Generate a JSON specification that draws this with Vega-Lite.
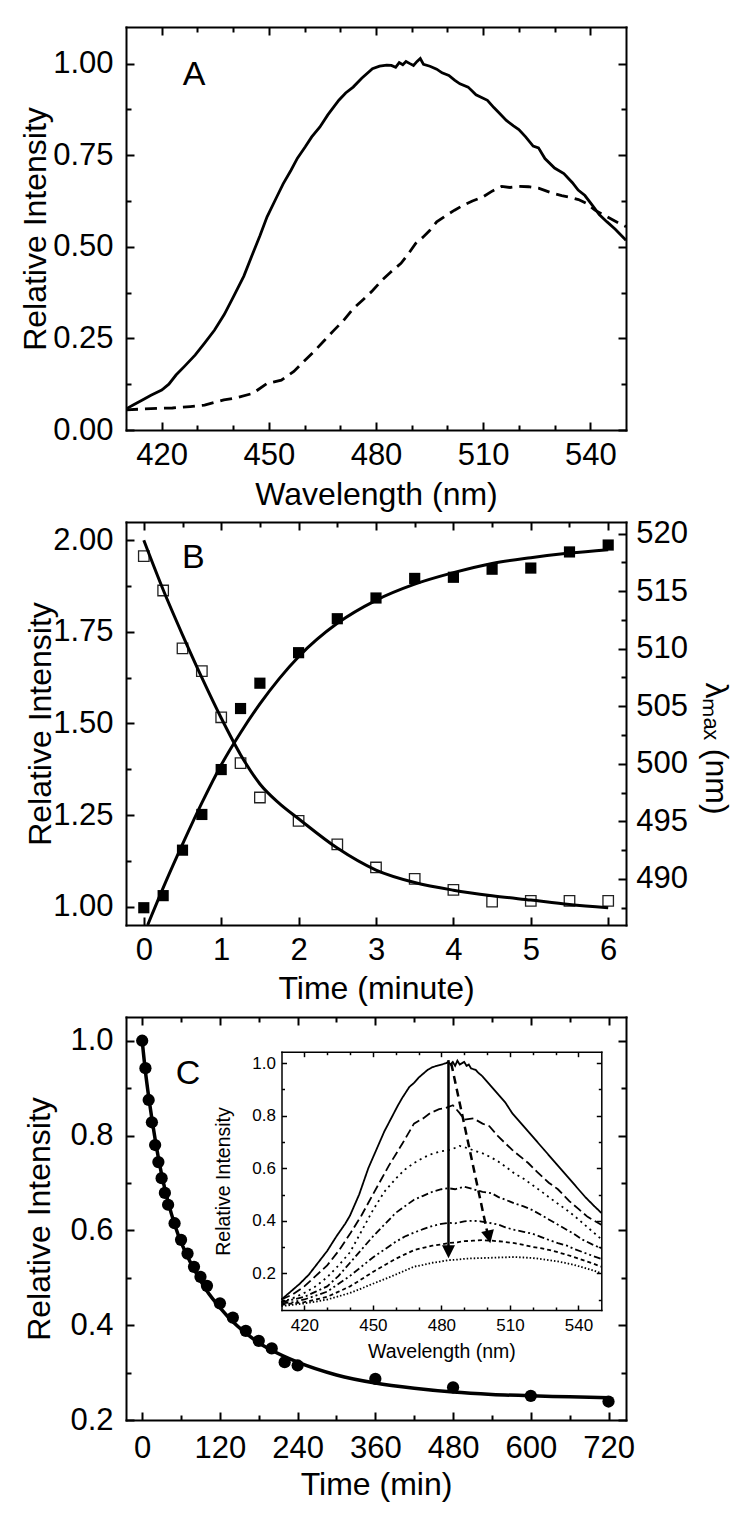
{
"$schema": "https://vega.github.io/schema/vega-lite/v6.json",
"padding": {"top": 26, "left": 19, "right": 2, "bottom": 2},
"bounds": "flush",
"spacing": 92,
"config": {
  "view": {"stroke": null},
  "font": "Liberation Sans",
  "axis": {"domainColor": "black", "domainWidth": 2, "tickColor": "black", "tickWidth": 2, "labelColor": "black", "titleColor": "black", "grid": false, "labelFont": "Liberation Sans", "titleFont": "Liberation Sans", "titleFontWeight": "normal", "labelFlush": false, "labelOverlap": false, "labelFontSize": 31, "titleFontSize": 32, "domainCap": "square"}
},
"datasets": {
  "aSolid": [
    {"wl":410.3,"v":0.059},{"wl":412,"v":0.068},{"wl":414.6,"v":0.082},{"wl":417,"v":0.095},{"wl":420,"v":0.109},{"wl":422,"v":0.125},{"wl":424,"v":0.15},{"wl":426.5,"v":0.175},{"wl":429.4,"v":0.205},{"wl":432,"v":0.237},{"wl":434.8,"v":0.273},{"wl":437.5,"v":0.315},{"wl":440.1,"v":0.364},{"wl":443,"v":0.42},{"wl":445.5,"v":0.482},{"wl":447.5,"v":0.53},{"wl":449.5,"v":0.582},{"wl":452.2,"v":0.636},{"wl":454,"v":0.672},{"wl":456.2,"v":0.709},{"wl":458,"v":0.742},{"wl":460.2,"v":0.773},{"wl":462,"v":0.8},{"wl":464.3,"v":0.827},{"wl":466.5,"v":0.86},{"wl":469.6,"v":0.9},{"wl":471.5,"v":0.92},{"wl":473.6,"v":0.936},{"wl":476,"v":0.96},{"wl":479,"v":0.986},{"wl":481,"v":0.993},{"wl":483,"v":0.996},{"wl":484.3,"v":0.995},{"wl":485.5,"v":0.99},{"wl":486.5,"v":1.003},{"wl":487.5,"v":0.997},{"wl":488.4,"v":1.006},{"wl":489.5,"v":1.0},{"wl":490.5,"v":0.995},{"wl":491.5,"v":1.006},{"wl":492.4,"v":1.014},{"wl":493.3,"v":0.998},{"wl":495.1,"v":0.993},{"wl":497,"v":0.985},{"wl":498.5,"v":0.975},{"wl":500.4,"v":0.968},{"wl":502,"v":0.955},{"wl":503.5,"v":0.945},{"wl":505.8,"v":0.936},{"wl":508,"v":0.915},{"wl":511.2,"v":0.9},{"wl":513,"v":0.88},{"wl":514.5,"v":0.865},{"wl":516.5,"v":0.845},{"wl":518.5,"v":0.83},{"wl":520,"v":0.82},{"wl":521.9,"v":0.8},{"wl":524,"v":0.775},{"wl":525.5,"v":0.77},{"wl":527.3,"v":0.741},{"wl":530,"v":0.715},{"wl":532.6,"v":0.7},{"wl":535,"v":0.675},{"wl":536.6,"v":0.655},{"wl":538.5,"v":0.64},{"wl":540.7,"v":0.612},{"wl":542.5,"v":0.588},{"wl":544.7,"v":0.568},{"wl":547,"v":0.548},{"wl":550,"v":0.518}
  ],
  "aDash": [
    {"wl":410,"v":0.055},{"wl":414,"v":0.057},{"wl":418.7,"v":0.059},{"wl":423,"v":0.06},{"wl":428,"v":0.064},{"wl":432,"v":0.068},{"wl":437.4,"v":0.082},{"wl":441,"v":0.088},{"wl":445.5,"v":0.1},{"wl":449.5,"v":0.127},{"wl":453.5,"v":0.136},{"wl":457,"v":0.16},{"wl":460.2,"v":0.191},{"wl":463,"v":0.218},{"wl":465.6,"v":0.245},{"wl":468,"v":0.27},{"wl":471,"v":0.3},{"wl":473.5,"v":0.33},{"wl":476.3,"v":0.355},{"wl":479,"v":0.38},{"wl":481.7,"v":0.409},{"wl":484,"v":0.43},{"wl":487,"v":0.455},{"wl":489,"v":0.48},{"wl":491.1,"v":0.509},{"wl":493,"v":0.525},{"wl":495.1,"v":0.545},{"wl":497,"v":0.568},{"wl":499.1,"v":0.582},{"wl":502,"v":0.6},{"wl":504.5,"v":0.614},{"wl":507,"v":0.625},{"wl":509.9,"v":0.636},{"wl":512.5,"v":0.652},{"wl":515.2,"v":0.665},{"wl":517.5,"v":0.662},{"wl":520,"v":0.665},{"wl":522.7,"v":0.664},{"wl":525.5,"v":0.66},{"wl":529.2,"v":0.647},{"wl":532,"v":0.64},{"wl":534,"v":0.636},{"wl":536.7,"v":0.629},{"wl":539,"v":0.618},{"wl":541.3,"v":0.6},{"wl":544.7,"v":0.582},{"wl":547.9,"v":0.565},{"wl":550,"v":0.555}
  ],
  "bOpen": [
    {"t":0,"v":1.957},{"t":0.25,"v":1.863},{"t":0.5,"v":1.705},{"t":0.75,"v":1.643},{"t":1,"v":1.517},{"t":1.25,"v":1.392},{"t":1.5,"v":1.298},{"t":2,"v":1.234},{"t":2.5,"v":1.17},{"t":3,"v":1.107},{"t":3.5,"v":1.076},{"t":4,"v":1.046},{"t":4.5,"v":1.014},{"t":5,"v":1.016},{"t":5.5,"v":1.016},{"t":6,"v":1.016}
  ],
  "bFilled": [
    {"t":0,"v":487.5},{"t":0.25,"v":488.55},{"t":0.5,"v":492.5},{"t":0.75,"v":495.6},{"t":1,"v":499.5},{"t":1.25,"v":504.8},{"t":1.5,"v":507.0},{"t":2,"v":509.65},{"t":2.5,"v":512.6},{"t":3,"v":514.4},{"t":3.5,"v":516.1},{"t":4,"v":516.2},{"t":4.5,"v":516.9},{"t":5,"v":517.0},{"t":5.5,"v":518.4},{"t":6,"v":519.0}
  ],
  "bDec": [
    {"t":0,"v":2.0},{"t":0.25,"v":1.865},{"t":0.5,"v":1.742},{"t":0.75,"v":1.625},{"t":1,"v":1.515},{"t":1.25,"v":1.415},{"t":1.5,"v":1.335},{"t":1.75,"v":1.282},{"t":2,"v":1.24},{"t":2.5,"v":1.16},{"t":3,"v":1.1},{"t":3.5,"v":1.066},{"t":4,"v":1.045},{"t":4.5,"v":1.03},{"t":5,"v":1.018},{"t":5.5,"v":1.006},{"t":6,"v":0.997}
  ],
  "bInc": [
    {"t":0.05,"v":486.0},{"t":0.3,"v":490.0},{"t":0.52,"v":493.3},{"t":0.75,"v":496.6},{"t":1,"v":499.9},{"t":1.25,"v":502.7},{"t":1.5,"v":505.2},{"t":1.75,"v":507.4},{"t":2,"v":509.3},{"t":2.5,"v":512.2},{"t":3,"v":514.2},{"t":3.5,"v":515.6},{"t":4,"v":516.6},{"t":4.5,"v":517.4},{"t":5,"v":517.9},{"t":5.5,"v":518.3},{"t":6,"v":518.6}
  ],
  "cPts": [
    {"t":0,"v":1.0},{"t":5,"v":0.942},{"t":10,"v":0.875},{"t":15,"v":0.828},{"t":20,"v":0.78},{"t":25,"v":0.744},{"t":30,"v":0.71},{"t":35,"v":0.679},{"t":40,"v":0.654},{"t":50,"v":0.615},{"t":60,"v":0.58},{"t":70,"v":0.551},{"t":80,"v":0.523},{"t":90,"v":0.502},{"t":100,"v":0.483},{"t":120,"v":0.446},{"t":140,"v":0.416},{"t":160,"v":0.388},{"t":180,"v":0.367},{"t":200,"v":0.351},{"t":220,"v":0.322},{"t":240,"v":0.315},{"t":360,"v":0.287},{"t":480,"v":0.269},{"t":600,"v":0.251},{"t":720,"v":0.239}
  ],
  "cFit": [
    {"t":0,"v":1.0},{"t":5,"v":0.935},{"t":10,"v":0.882},{"t":15,"v":0.835},{"t":20,"v":0.792},{"t":30,"v":0.718},{"t":40,"v":0.66},{"t":50,"v":0.613},{"t":60,"v":0.575},{"t":70,"v":0.545},{"t":80,"v":0.518},{"t":100,"v":0.472},{"t":120,"v":0.437},{"t":140,"v":0.407},{"t":160,"v":0.383},{"t":180,"v":0.363},{"t":200,"v":0.347},{"t":240,"v":0.322},{"t":300,"v":0.295},{"t":360,"v":0.278},{"t":420,"v":0.267},{"t":480,"v":0.259},{"t":540,"v":0.254},{"t":600,"v":0.251},{"t":660,"v":0.249},{"t":720,"v":0.247}
  ],
  "inset": [
    {"s":"1","wl":410,"v":0.1},{"s":"1","wl":414,"v":0.13},{"s":"1","wl":418,"v":0.16},{"s":"1","wl":422,"v":0.195},{"s":"1","wl":426,"v":0.24},{"s":"1","wl":430,"v":0.285},{"s":"1","wl":434,"v":0.34},{"s":"1","wl":438,"v":0.39},{"s":"1","wl":440,"v":0.42},{"s":"1","wl":444,"v":0.5},{"s":"1","wl":448,"v":0.6},{"s":"1","wl":452,"v":0.68},{"s":"1","wl":455,"v":0.74},{"s":"1","wl":458,"v":0.79},{"s":"1","wl":461,"v":0.84},{"s":"1","wl":463,"v":0.87},{"s":"1","wl":466,"v":0.91},{"s":"1","wl":468,"v":0.925},{"s":"1","wl":470,"v":0.945},{"s":"1","wl":472,"v":0.96},{"s":"1","wl":474,"v":0.975},{"s":"1","wl":476,"v":0.985},{"s":"1","wl":478,"v":0.99},{"s":"1","wl":480,"v":0.995},{"s":"1","wl":482,"v":1.0},{"s":"1","wl":483,"v":1.005},{"s":"1","wl":484,"v":0.995},{"s":"1","wl":485,"v":1.005},{"s":"1","wl":486,"v":0.99},{"s":"1","wl":487,"v":1.01},{"s":"1","wl":488,"v":0.995},{"s":"1","wl":489,"v":1.0},{"s":"1","wl":490,"v":1.005},{"s":"1","wl":491,"v":0.99},{"s":"1","wl":492,"v":0.995},{"s":"1","wl":493,"v":0.98},{"s":"1","wl":495,"v":0.975},{"s":"1","wl":496,"v":0.965},{"s":"1","wl":498,"v":0.95},{"s":"1","wl":500,"v":0.93},{"s":"1","wl":502,"v":0.91},{"s":"1","wl":505,"v":0.88},{"s":"1","wl":508,"v":0.85},{"s":"1","wl":511,"v":0.81},{"s":"1","wl":515,"v":0.77},{"s":"1","wl":518,"v":0.74},{"s":"1","wl":521,"v":0.71},{"s":"1","wl":525,"v":0.67},{"s":"1","wl":530,"v":0.62},{"s":"1","wl":535,"v":0.57},{"s":"1","wl":539,"v":0.53},{"s":"1","wl":543,"v":0.49},{"s":"1","wl":547,"v":0.455},{"s":"1","wl":550,"v":0.43},
    {"s":"2","wl":410,"v":0.1},{"s":"2","wl":415,"v":0.12},{"s":"2","wl":420,"v":0.15},{"s":"2","wl":425,"v":0.19},{"s":"2","wl":430,"v":0.23},{"s":"2","wl":435,"v":0.285},{"s":"2","wl":440,"v":0.35},{"s":"2","wl":445,"v":0.42},{"s":"2","wl":450,"v":0.5},{"s":"2","wl":457,"v":0.61},{"s":"2","wl":463,"v":0.695},{"s":"2","wl":468,"v":0.77},{"s":"2","wl":472,"v":0.79},{"s":"2","wl":475,"v":0.81},{"s":"2","wl":479,"v":0.825},{"s":"2","wl":482,"v":0.83},{"s":"2","wl":485,"v":0.84},{"s":"2","wl":488,"v":0.81},{"s":"2","wl":490,"v":0.785},{"s":"2","wl":494,"v":0.79},{"s":"2","wl":498,"v":0.77},{"s":"2","wl":501,"v":0.76},{"s":"2","wl":505,"v":0.72},{"s":"2","wl":511,"v":0.67},{"s":"2","wl":518,"v":0.62},{"s":"2","wl":522,"v":0.585},{"s":"2","wl":527,"v":0.545},{"s":"2","wl":531,"v":0.52},{"s":"2","wl":536,"v":0.475},{"s":"2","wl":540,"v":0.445},{"s":"2","wl":544,"v":0.415},{"s":"2","wl":550,"v":0.385},
    {"s":"3","wl":410,"v":0.09},{"s":"3","wl":415,"v":0.105},{"s":"3","wl":420,"v":0.125},{"s":"3","wl":425,"v":0.15},{"s":"3","wl":430,"v":0.185},{"s":"3","wl":435,"v":0.23},{"s":"3","wl":440,"v":0.28},{"s":"3","wl":445,"v":0.36},{"s":"3","wl":450,"v":0.44},{"s":"3","wl":455,"v":0.51},{"s":"3","wl":460,"v":0.56},{"s":"3","wl":464,"v":0.595},{"s":"3","wl":468,"v":0.62},{"s":"3","wl":472,"v":0.64},{"s":"3","wl":476,"v":0.655},{"s":"3","wl":480,"v":0.665},{"s":"3","wl":484,"v":0.67},{"s":"3","wl":488,"v":0.685},{"s":"3","wl":492,"v":0.675},{"s":"3","wl":495,"v":0.665},{"s":"3","wl":498,"v":0.657},{"s":"3","wl":502,"v":0.64},{"s":"3","wl":505,"v":0.625},{"s":"3","wl":509,"v":0.6},{"s":"3","wl":512,"v":0.58},{"s":"3","wl":516,"v":0.56},{"s":"3","wl":520,"v":0.535},{"s":"3","wl":524,"v":0.51},{"s":"3","wl":527,"v":0.49},{"s":"3","wl":531,"v":0.465},{"s":"3","wl":535,"v":0.44},{"s":"3","wl":538,"v":0.42},{"s":"3","wl":542,"v":0.39},{"s":"3","wl":546,"v":0.36},{"s":"3","wl":550,"v":0.33},
    {"s":"4","wl":410,"v":0.09},{"s":"4","wl":415,"v":0.1},{"s":"4","wl":420,"v":0.11},{"s":"4","wl":425,"v":0.13},{"s":"4","wl":430,"v":0.15},{"s":"4","wl":435,"v":0.19},{"s":"4","wl":440,"v":0.24},{"s":"4","wl":445,"v":0.29},{"s":"4","wl":450,"v":0.34},{"s":"4","wl":455,"v":0.385},{"s":"4","wl":460,"v":0.43},{"s":"4","wl":464,"v":0.455},{"s":"4","wl":468,"v":0.48},{"s":"4","wl":472,"v":0.495},{"s":"4","wl":476,"v":0.51},{"s":"4","wl":480,"v":0.52},{"s":"4","wl":483,"v":0.524},{"s":"4","wl":486,"v":0.52},{"s":"4","wl":490,"v":0.53},{"s":"4","wl":494,"v":0.52},{"s":"4","wl":498,"v":0.51},{"s":"4","wl":502,"v":0.505},{"s":"4","wl":505,"v":0.49},{"s":"4","wl":508,"v":0.48},{"s":"4","wl":512,"v":0.466},{"s":"4","wl":516,"v":0.455},{"s":"4","wl":520,"v":0.44},{"s":"4","wl":524,"v":0.42},{"s":"4","wl":527,"v":0.405},{"s":"4","wl":531,"v":0.385},{"s":"4","wl":535,"v":0.365},{"s":"4","wl":538,"v":0.35},{"s":"4","wl":542,"v":0.327},{"s":"4","wl":546,"v":0.31},{"s":"4","wl":550,"v":0.295},
    {"s":"5","wl":410,"v":0.085},{"s":"5","wl":415,"v":0.09},{"s":"5","wl":420,"v":0.1},{"s":"5","wl":425,"v":0.115},{"s":"5","wl":430,"v":0.13},{"s":"5","wl":435,"v":0.16},{"s":"5","wl":440,"v":0.19},{"s":"5","wl":445,"v":0.225},{"s":"5","wl":450,"v":0.26},{"s":"5","wl":455,"v":0.29},{"s":"5","wl":460,"v":0.32},{"s":"5","wl":464,"v":0.34},{"s":"5","wl":468,"v":0.355},{"s":"5","wl":472,"v":0.368},{"s":"5","wl":476,"v":0.38},{"s":"5","wl":480,"v":0.388},{"s":"5","wl":483,"v":0.392},{"s":"5","wl":486,"v":0.39},{"s":"5","wl":490,"v":0.398},{"s":"5","wl":494,"v":0.4},{"s":"5","wl":497,"v":0.398},{"s":"5","wl":501,"v":0.392},{"s":"5","wl":505,"v":0.385},{"s":"5","wl":508,"v":0.375},{"s":"5","wl":512,"v":0.365},{"s":"5","wl":516,"v":0.358},{"s":"5","wl":520,"v":0.35},{"s":"5","wl":524,"v":0.337},{"s":"5","wl":527,"v":0.327},{"s":"5","wl":531,"v":0.315},{"s":"5","wl":535,"v":0.305},{"s":"5","wl":538,"v":0.293},{"s":"5","wl":542,"v":0.28},{"s":"5","wl":546,"v":0.267},{"s":"5","wl":550,"v":0.255},
    {"s":"6","wl":410,"v":0.08},{"s":"6","wl":415,"v":0.085},{"s":"6","wl":420,"v":0.09},{"s":"6","wl":425,"v":0.1},{"s":"6","wl":430,"v":0.11},{"s":"6","wl":435,"v":0.13},{"s":"6","wl":440,"v":0.15},{"s":"6","wl":445,"v":0.177},{"s":"6","wl":450,"v":0.205},{"s":"6","wl":455,"v":0.23},{"s":"6","wl":460,"v":0.255},{"s":"6","wl":464,"v":0.272},{"s":"6","wl":468,"v":0.288},{"s":"6","wl":472,"v":0.297},{"s":"6","wl":476,"v":0.305},{"s":"6","wl":480,"v":0.31},{"s":"6","wl":483,"v":0.315},{"s":"6","wl":487,"v":0.318},{"s":"6","wl":490,"v":0.322},{"s":"6","wl":494,"v":0.324},{"s":"6","wl":498,"v":0.326},{"s":"6","wl":502,"v":0.324},{"s":"6","wl":505,"v":0.322},{"s":"6","wl":509,"v":0.318},{"s":"6","wl":512,"v":0.315},{"s":"6","wl":516,"v":0.308},{"s":"6","wl":520,"v":0.3},{"s":"6","wl":524,"v":0.295},{"s":"6","wl":527,"v":0.289},{"s":"6","wl":531,"v":0.28},{"s":"6","wl":535,"v":0.27},{"s":"6","wl":538,"v":0.262},{"s":"6","wl":542,"v":0.25},{"s":"6","wl":546,"v":0.238},{"s":"6","wl":550,"v":0.225},
    {"s":"7","wl":410,"v":0.075},{"s":"7","wl":415,"v":0.08},{"s":"7","wl":420,"v":0.085},{"s":"7","wl":425,"v":0.092},{"s":"7","wl":430,"v":0.1},{"s":"7","wl":435,"v":0.112},{"s":"7","wl":440,"v":0.125},{"s":"7","wl":445,"v":0.142},{"s":"7","wl":450,"v":0.16},{"s":"7","wl":455,"v":0.177},{"s":"7","wl":460,"v":0.195},{"s":"7","wl":464,"v":0.21},{"s":"7","wl":468,"v":0.225},{"s":"7","wl":472,"v":0.232},{"s":"7","wl":476,"v":0.24},{"s":"7","wl":480,"v":0.245},{"s":"7","wl":483,"v":0.25},{"s":"7","wl":487,"v":0.252},{"s":"7","wl":490,"v":0.255},{"s":"7","wl":494,"v":0.257},{"s":"7","wl":498,"v":0.258},{"s":"7","wl":502,"v":0.259},{"s":"7","wl":505,"v":0.26},{"s":"7","wl":509,"v":0.261},{"s":"7","wl":512,"v":0.262},{"s":"7","wl":516,"v":0.26},{"s":"7","wl":520,"v":0.258},{"s":"7","wl":524,"v":0.254},{"s":"7","wl":527,"v":0.25},{"s":"7","wl":531,"v":0.245},{"s":"7","wl":535,"v":0.238},{"s":"7","wl":538,"v":0.232},{"s":"7","wl":542,"v":0.222},{"s":"7","wl":546,"v":0.212},{"s":"7","wl":550,"v":0.2}
  ],
  "arrowSolid": [{"x":483.1,"y":1.012,"x2":483.1,"y2":0.275}],
  "arrowDash": [{"x":484.3,"y":1.0,"x2":500.6,"y2":0.335}],
  "heads": [{"x":483.1,"y":0.282,"a":0},{"x":500.8,"y":0.338,"a":347.6}]
},
"vconcat": [
  {
    "width": 500, "height": 403,
    "layer": [
      {"data": {"name": "aSolid"}, "mark": {"type": "line", "color": "black", "strokeWidth": 2.8},
       "encoding": {
         "x": {"field": "wl", "type": "quantitative", "scale": {"domain": [410, 550], "nice": false, "zero": false},
               "axis": {"orient": "bottom", "values": [420,430,440,450,460,470,480,490,500,510,520,530,540], "labelExpr": "datum.value % 30 === 0 ? datum.label : ''", "tickSize": {"condition": {"test": "datum.value % 30 === 0", "value": -8}, "value": -5}, "labelPadding": 18.5, "title": "Wavelength (nm)", "titleY": 64, "titleBaseline": "middle"}},
         "y": {"field": "v", "type": "quantitative", "scale": {"domain": [0, 1.1], "nice": false, "zero": false},
               "axis": {"orient": "left", "values": [0,0.125,0.25,0.375,0.5,0.625,0.75,0.875,1], "format": ".2f", "labelExpr": "abs(datum.value*4-round(datum.value*4)) < 0.001 ? datum.label : ''", "tickSize": {"condition": {"test": "abs(datum.value*4-round(datum.value*4)) < 0.001", "value": -8}, "value": -5}, "labelPadding": 21, "title": "Relative Intensity", "titleX": -91, "titleBaseline": "middle", "titleAngle": 270}}
       }},
      {"data": {"name": "aDash"}, "mark": {"type": "line", "color": "black", "strokeWidth": 2.8, "strokeDash": [12, 7]},
       "encoding": {
         "x": {"field": "wl", "type": "quantitative", "axis": {"orient": "top", "values": [420,430,440,450,460,470,480,490,500,510,520,530,540], "labels": false, "tickSize": {"condition": {"test": "datum.value % 30 === 0", "value": -8}, "value": -5}, "title": null}},
         "y": {"field": "v", "type": "quantitative", "axis": {"orient": "right", "values": [0,0.125,0.25,0.375,0.5,0.625,0.75,0.875,1], "labels": false, "tickSize": {"condition": {"test": "abs(datum.value*4-round(datum.value*4)) < 0.001", "value": -8}, "value": -5}, "title": null}}
       }},
      {"data": {"values": [{"x": 429.1, "y": 0.968, "t": "A"}]}, "mark": {"type": "text", "fontSize": 34, "font": "Liberation Sans", "color": "black", "baseline": "middle"},
       "encoding": {"x": {"field": "x", "type": "quantitative", "axis": null}, "y": {"field": "y", "type": "quantitative", "axis": null}, "text": {"field": "t"}}}
    ],
    "resolve": {"axis": {"x": "independent", "y": "independent"}}
  },
  {
    "width": 500, "height": 403,
    "layer": [
      {"layer": [
        {"data": {"name": "bOpen"}, "mark": {"type": "point", "shape": "square", "filled": false, "stroke": "#222", "strokeWidth": 1.3, "size": 110, "opacity": 1},
         "encoding": {
           "x": {"field": "t", "type": "quantitative", "scale": {"domain": [-0.23, 6.23], "nice": false, "zero": false},
                 "axis": {"orient": "bottom", "values": [0,0.5,1,1.5,2,2.5,3,3.5,4,4.5,5,5.5,6], "format": "d", "labelExpr": "datum.value % 1 === 0 ? datum.label : ''", "tickSize": {"condition": {"test": "datum.value % 1 === 0", "value": -8}, "value": -5}, "labelPadding": 18, "title": "Time (minute)", "titleY": 63, "titleBaseline": "middle"}},
           "y": {"field": "v", "type": "quantitative", "scale": {"domain": [0.95, 2.05], "nice": false, "zero": false},
                 "axis": {"orient": "left", "values": [1,1.125,1.25,1.375,1.5,1.625,1.75,1.875,2], "format": ".2f", "labelExpr": "abs(datum.value*4-round(datum.value*4)) < 0.001 ? datum.label : ''", "tickSize": {"condition": {"test": "abs(datum.value*4-round(datum.value*4)) < 0.001", "value": -8}, "value": -5}, "labelPadding": 21, "title": "Relative Intensity", "titleX": -86, "titleBaseline": "middle", "titleAngle": 270}}
         }},
        {"data": {"name": "bDec"}, "mark": {"type": "line", "color": "black", "strokeWidth": 3, "interpolate": "monotone"},
         "encoding": {"x": {"field": "t", "type": "quantitative", "axis": null}, "y": {"field": "v", "type": "quantitative", "axis": null}}},
        {"data": {"values": [{"x": 0.64, "y": 1.953, "t": "B"}]}, "mark": {"type": "text", "fontSize": 34, "font": "Liberation Sans", "color": "black", "baseline": "middle"},
         "encoding": {"x": {"field": "x", "type": "quantitative", "axis": null}, "y": {"field": "y", "type": "quantitative", "axis": null}, "text": {"field": "t"}}}
      ], "resolve": {"axis": {"x": "independent", "y": "independent"}}},
      {"layer": [
        {"data": {"name": "bFilled"}, "mark": {"type": "point", "shape": "square", "filled": true, "color": "black", "size": 125, "opacity": 1},
         "encoding": {
           "x": {"field": "t", "type": "quantitative", "axis": {"orient": "top", "values": [0,0.5,1,1.5,2,2.5,3,3.5,4,4.5,5,5.5,6], "labels": false, "tickSize": {"condition": {"test": "datum.value % 1 === 0", "value": -8}, "value": -5}, "title": null}},
           "y": {"field": "v", "type": "quantitative", "scale": {"domain": [486, 521], "nice": false, "zero": false},
                 "axis": {"orient": "right", "values": [487.5,490,492.5,495,497.5,500,502.5,505,507.5,510,512.5,515,517.5,520], "format": "d", "labelExpr": "datum.value % 5 === 0 ? datum.label : ''", "tickSize": {"condition": {"test": "datum.value % 5 === 0", "value": -8}, "value": -5}, "labelPadding": 17.7, "title": "λₘₐₓ (nm)", "titleAngle": 90, "titleX": 89, "titleY": 226, "titleBaseline": "middle"}}
         }},
        {"data": {"name": "bInc"}, "mark": {"type": "line", "color": "black", "strokeWidth": 3, "interpolate": "monotone", "clip": true},
         "encoding": {"x": {"field": "t", "type": "quantitative", "axis": null}, "y": {"field": "v", "type": "quantitative", "axis": null}}}
      ], "resolve": {"axis": {"x": "independent", "y": "independent"}}}
    ],
    "resolve": {"scale": {"y": "independent"}, "axis": {"x": "independent", "y": "independent"}}
  },
  {
    "width": 500, "height": 403,
    "layer": [
      {"layer": [
        {"data": {"name": "cFit"}, "mark": {"type": "line", "color": "black", "strokeWidth": 3.5, "interpolate": "monotone"},
         "encoding": {
           "x": {"field": "t", "type": "quantitative", "scale": {"domain": [-25, 747], "nice": false, "zero": false},
                 "axis": {"orient": "bottom", "values": [0,60,120,180,240,300,360,420,480,540,600,660,720], "labelExpr": "datum.value % 120 === 0 ? datum.label : ''", "tickSize": {"condition": {"test": "datum.value % 120 === 0", "value": -8}, "value": -5}, "labelPadding": 21, "title": "Time (min)", "titleY": 64, "titleBaseline": "middle"}},
           "y": {"field": "v", "type": "quantitative", "scale": {"domain": [0.2, 1.05], "nice": false, "zero": false},
                 "axis": {"orient": "left", "values": [0.2,0.3,0.4,0.5,0.6,0.7,0.8,0.9,1.0], "format": ".1f", "labelExpr": "abs(datum.value*5-round(datum.value*5)) < 0.001 ? datum.label : ''", "tickSize": {"condition": {"test": "abs(datum.value*5-round(datum.value*5)) < 0.001", "value": -8}, "value": -5}, "labelPadding": 21, "title": "Relative Intensity", "titleX": -87, "titleBaseline": "middle", "titleAngle": 270}}
         }},
        {"data": {"name": "cPts"}, "mark": {"type": "point", "shape": "circle", "filled": true, "color": "black", "size": 150, "opacity": 1},
         "encoding": {
           "x": {"field": "t", "type": "quantitative", "axis": {"orient": "top", "values": [0,60,120,180,240,300,360,420,480,540,600,660,720], "labels": false, "tickSize": {"condition": {"test": "datum.value % 120 === 0", "value": -8}, "value": -5}, "title": null}},
           "y": {"field": "v", "type": "quantitative", "axis": {"orient": "right", "values": [0.2,0.3,0.4,0.5,0.6,0.7,0.8,0.9,1.0], "labels": false, "tickSize": {"condition": {"test": "abs(datum.value*5-round(datum.value*5)) < 0.001", "value": -8}, "value": -5}, "title": null}}
         }},
        {"data": {"values": [{"x": 70.7, "y": 0.929, "t": "C"}]}, "mark": {"type": "text", "fontSize": 34, "font": "Liberation Sans", "color": "black", "baseline": "middle"},
         "encoding": {"x": {"field": "x", "type": "quantitative", "axis": null}, "y": {"field": "y", "type": "quantitative", "axis": null}, "text": {"field": "t"}}}
      ], "resolve": {"axis": {"x": "independent", "y": "independent"}}},
      {"layer": [
        {"data": {"name": "inset"}, "mark": {"type": "line", "color": "black", "strokeWidth": 1.8},
         "encoding": {
           "x": {"field": "wl", "type": "quantitative", "scale": {"domain": [410, 550], "range": [155.5, 475.3], "nice": false, "zero": false},
                 "axis": {"orient": "bottom", "offset": -110, "values": [420,430,440,450,460,470,480,490,500,510,520,530,540], "labelExpr": "datum.value % 30 === 0 ? datum.label : ''", "tickSize": {"condition": {"test": "datum.value % 30 === 0", "value": -5}, "value": -3}, "tickWidth": 1.5, "domainWidth": 1.5, "labelFontSize": 17, "labelPadding": 12.4, "title": "Wavelength (nm)", "titleFontSize": 19.5, "titleX": 315.4, "titleY": 41, "titleBaseline": "middle"}},
           "y": {"field": "v", "type": "quantitative", "scale": {"domain": [0.06, 1.044], "range": [293, 34.7], "nice": false, "zero": false},
                 "axis": {"orient": "left", "offset": -155.5, "values": [0.1,0.2,0.3,0.4,0.5,0.6,0.7,0.8,0.9,1.0], "format": ".1f", "labelExpr": "abs(datum.value*5-round(datum.value*5)) < 0.001 ? datum.label : ''", "tickSize": {"condition": {"test": "abs(datum.value*5-round(datum.value*5)) < 0.001", "value": -5}, "value": -3}, "tickWidth": 1.5, "domainWidth": 1.5, "labelFontSize": 17, "labelPadding": 11, "title": "Relative Intensity", "titleFontSize": 19.5, "titleX": -57.6, "titleY": 164, "titleBaseline": "middle", "titleAngle": 270}},
           "strokeDash": {"field": "s", "type": "nominal", "scale": {"domain": ["1","2","3","4","5","6","7"], "range": [[1,0],[9,4],[2,4],[7,3,2,3],[7,3,2,3,2,3],[4,3],[1.5,2]]}, "legend": null}
         }},
        {"data": {"name": "arrowSolid"}, "mark": {"type": "rule", "color": "black", "strokeWidth": 2.5},
         "encoding": {
           "x": {"field": "x", "type": "quantitative", "axis": {"orient": "top", "offset": -34.7, "values": [420,430,440,450,460,470,480,490,500,510,520,530,540], "labels": false, "tickSize": {"condition": {"test": "datum.value % 30 === 0", "value": -5}, "value": -3}, "tickWidth": 1.5, "domainWidth": 1.5, "title": null}},
           "y": {"field": "y", "type": "quantitative", "axis": {"orient": "right", "offset": -24.7, "values": [0.1,0.2,0.3,0.4,0.5,0.6,0.7,0.8,0.9,1.0], "labels": false, "tickSize": {"condition": {"test": "abs(datum.value*5-round(datum.value*5)) < 0.001", "value": -5}, "value": -3}, "tickWidth": 1.5, "domainWidth": 1.5, "title": null}},
           "x2": {"field": "x2"}, "y2": {"field": "y2"}
         }},
        {"data": {"name": "arrowDash"}, "mark": {"type": "rule", "color": "black", "strokeWidth": 2.5, "strokeDash": [8, 5]},
         "encoding": {"x": {"field": "x", "type": "quantitative", "axis": null}, "y": {"field": "y", "type": "quantitative", "axis": null}, "x2": {"field": "x2"}, "y2": {"field": "y2"}}},
        {"data": {"name": "heads"}, "mark": {"type": "point", "shape": "M -1 -1 L 1 -1 L 0 1 Z", "filled": true, "color": "black", "size": 169, "opacity": 1},
         "encoding": {"x": {"field": "x", "type": "quantitative", "axis": null}, "y": {"field": "y", "type": "quantitative", "axis": null}, "angle": {"field": "a", "type": "quantitative", "scale": null}}}
      ], "resolve": {"axis": {"x": "independent", "y": "independent"}}}
    ],
    "resolve": {"scale": {"x": "independent", "y": "independent"}, "axis": {"x": "independent", "y": "independent"}}
  }
]
}
